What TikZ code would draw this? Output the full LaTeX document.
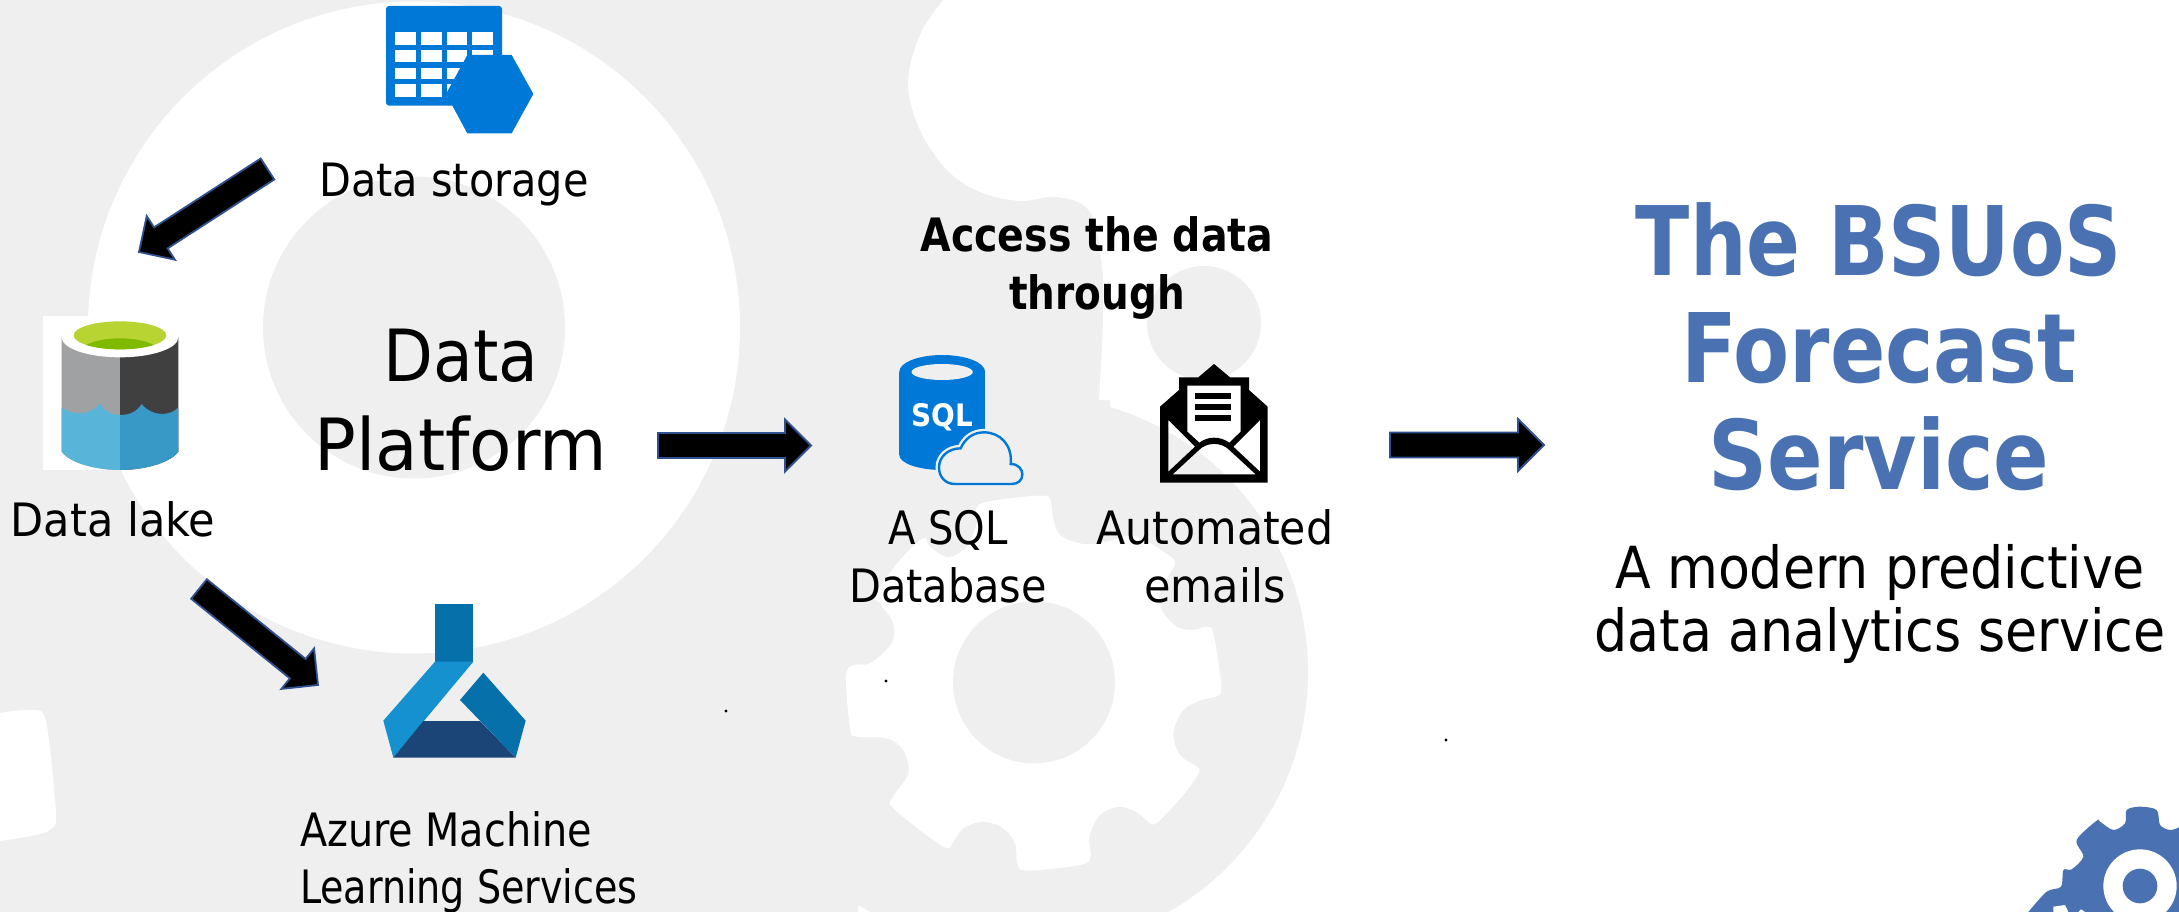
\documentclass[tikz,border=0pt]{standalone}
\usepackage{fontspec}
\setmainfont{DejaVu Sans Condensed}
\usetikzlibrary{calc}
\definecolor{bggray}{HTML}{EFEFEF}
\definecolor{azure}{HTML}{0078D7}
\definecolor{titleblue}{HTML}{4A72B2}
\definecolor{arrowedge}{HTML}{2F528F}
\definecolor{lakegray}{HTML}{A0A1A2}
\definecolor{lakedark}{HTML}{404040}
\definecolor{lakewater}{HTML}{59B4D9}
\definecolor{lakedeep}{HTML}{3999C6}
\definecolor{lakelime}{HTML}{B8D432}
\definecolor{lakegreen}{HTML}{7FBA00}
\definecolor{mlmid}{HTML}{0670AB}
\definecolor{mllight}{HTML}{1591D0}
\definecolor{mldark}{HTML}{1B4477}
\tikzset{
  blockarrowstyle/.style={draw=arrowedge,fill=black,line width=1.8pt,line join=miter},
  label/.style={anchor=base,inner sep=0pt,outer sep=0pt,align=center,text=black},
  zoomed/.style={x=0.33333pt,y=-0.33333pt},
  speck/.style={fill=black},
}
\newcommand{\fs}[2]{\fontsize{#1}{#2}\selectfont}
\newcommand{\squeeze}[2]{\scalebox{#1}[1]{#2}}
\newcommand{\blockarrow}[2]{%
  \draw[blockarrowstyle]
    ($(#1)!12.5pt!90:(#2)$) --
    ($(#2)!26pt!(#1)!12.5pt!-90:(#1)$) --
    ($(#2)!26pt!(#1)!26pt!-90:(#1)$) --
    (#2) --
    ($(#2)!26pt!(#1)!26pt!90:(#1)$) --
    ($(#2)!26pt!(#1)!12.5pt!90:(#1)$) --
    ($(#1)!12.5pt!-90:(#2)$) -- cycle;}
\begin{document}
\begin{tikzpicture}[x=1pt,y=-1pt]
\useasboundingbox (0,0) rectangle (2179,912);
% backdrop
\fill[white] (0,0) rectangle (2179,912);
\fill[bggray] (0,0) rectangle (1110,912);
\fill[white] plot[smooth,tension=0.6] coordinates {(943,0)(920,35)(908,83)(920,130)(947,170)(980,192)(1020,201)(1057,197)(1090,212)(1102,267)(1103,320)(1099,400)}
  -- (1400,400) -- (1400,0) -- cycle;
\fill[bggray] (1032,672) circle [radius=276];
\fill[bggray] (1204,323) circle [radius=57];
\fill[white] (414,327.5) circle [radius=326];
\fill[bggray] (414,327.5) circle [radius=151];
\begin{scope}[shift={(830,480)},zoomed]
\fill[white] plot[smooth cycle,tension=0.55] coordinates {
(445,75)(540,55)(640,47)(662,60)(668,110)(690,165)(760,192)(830,185)(912,168)(1000,215)(1035,245)(1020,280)(990,330)(995,390)(1040,440)(1090,450)(1130,440)(1150,460)(1172,600)(1168,645)(1115,660)(1060,690)(1030,760)(1050,825)(1100,860)(1105,880)(1060,945)(985,1025)(960,1030)(925,1000)(870,980)(810,1005)(778,1070)(782,1130)(750,1155)(590,1172)(562,1150)(555,1090)(520,1045)(460,1025)(400,1045)(370,1085)(340,1100)(190,985)(190,950)(235,880)(220,810)(170,775)(80,770)(60,745)(48,590)(70,555)(120,550)(185,490)(190,430)(150,370)(135,345)(210,240)(280,175)(300,200)(355,232)(410,200)(440,130)};
\fill[bggray] (612,607) circle [radius=243];
\end{scope}
\fill[white] (858,905) -- (870,912) -- (858,912) -- cycle;
\fill[white] plot[smooth,tension=0.5] coordinates {(0,713)(31,710)(46,721)(56,814)(51,829)(36,835)(0,841)} -- cycle;
% data storage icon
\begin{scope}[shift={(360,0)},zoomed]
\fill[azure,rounded corners=3pt] (78,18) rectangle (426,317);
\foreach \xa/\xb in {105/168,183/245,260/322,337/400}
  \foreach \ya/\yb in {97/135,150/185,203/238,252/290}
    \fill[white] (\xa,\ya) rectangle (\xb,\yb);
\fill[azure] (258,282) -- (322,165) -- (455,165) -- (520,282) -- (455,400) -- (322,400) -- cycle;
\end{scope}
% data lake icon
\fill[white] (43,316) rectangle (180,470);
\begin{scope}[shift={(30,300)},zoomed]
\fill[lakegray] (95,112) -- (95,455) .. controls (120,490) and (200,510) .. (270,510) -- (270,112) -- cycle;
\fill[lakedark] (270,112) -- (270,510) .. controls (340,510) and (420,490) .. (445,455) -- (445,112) -- cycle;
\fill[lakewater] (95,322) .. controls (125,350) and (185,345) .. (210,310) .. controls (225,335) and (245,345) .. (270,345) -- (270,510) .. controls (200,510) and (120,490) .. (95,455) -- cycle;
\fill[lakedeep] (270,345) .. controls (300,345) and (320,335) .. (335,312) .. controls (365,350) and (420,350) .. (445,322) -- (445,455) .. controls (420,490) and (340,510) .. (270,510) -- cycle;
\fill[white] (270,112) ellipse [x radius=175,y radius=60];
\fill[lakelime] (270,106) ellipse [x radius=139,y radius=42];
\begin{scope}
\clip (270,106) ellipse [x radius=139,y radius=42];
\fill[lakegreen] (270,158) ellipse [x radius=120,y radius=43];
\end{scope}
\end{scope}
% machine learning icon
\begin{scope}[shift={(360,590)},zoomed]
\fill[mlmid] (225,42) rectangle (340,215);
\fill[mllight] (225,215) -- (340,215) -- (100,503) -- (70,392) -- cycle;
\fill[mldark] (190,393) -- (360,393) -- (467,503) -- (100,503) -- cycle;
\fill[mlmid] (370,248) -- (497,392) -- (467,503) -- (300,330) -- cycle;
\end{scope}
% SQL icon
\begin{scope}[shift={(870,340)},zoomed]
\fill[azure] (88,95) rectangle (345,345);
\fill[azure] (216.5,95) ellipse [x radius=128.5,y radius=50];
\fill[azure] (216.5,345) ellipse [x radius=128.5,y radius=45];
\fill[bggray] (216.5,96) ellipse [x radius=92,y radius=24];
\node[text=white,inner sep=0pt,font=\fs{31}{31}\bfseries] (sqlmark) at (217,232) {SQL};
\path[fill=bggray,draw=bggray,line width=7pt] (255,432) .. controls (225,432) and (207,410) .. (207,382) .. controls (207,350) and (235,325) .. (272,325) .. controls (285,295) and (310,277) .. (342,277) .. controls (390,277) and (428,315) .. (422,372) .. controls (445,372) and (457,388) .. (457,403) .. controls (457,420) and (445,432) .. (425,432) -- cycle;
\draw[azure,line width=2.4pt] (255,432) .. controls (225,432) and (207,410) .. (207,382) .. controls (207,350) and (235,325) .. (272,325) .. controls (285,295) and (310,277) .. (342,277) .. controls (390,277) and (428,315) .. (422,372) .. controls (445,372) and (457,388) .. (457,403) .. controls (457,420) and (445,432) .. (425,432) -- cycle;
\end{scope}
% envelope icon
\begin{scope}[shift={(870,340)},zoomed]
\fill[black,even odd rule]
 (870,428) -- (1193,428) -- (1193,200) -- (1137,150) -- (1137,112) -- (1080,112) -- (1032,72) -- (985,112) -- (927,112) -- (927,150) -- (870,200) -- cycle
 (952,137) -- (1112,137) -- (1112,275) -- (1078,308) .. controls (1050,288) and (1015,288) .. (988,308) -- (952,275) -- cycle
 (895,240) -- (975,320) -- (895,395) -- cycle
 (1170,240) -- (1090,320) -- (1170,395) -- cycle
 (908,403) -- (985,332) .. controls (1010,305) and (1055,305) .. (1080,332) -- (1157,403) -- cycle;
\fill[black] (975,160) rectangle (1083,177);
\fill[black] (975,192) rectangle (1083,210);
\fill[black] (975,225) rectangle (1083,243);
\end{scope}
% corner gear
\begin{scope}
\clip (2000,780) rectangle (2179,912);
\begin{scope}[shift={(2000,780)},zoomed]
\fill[titleblue] plot[smooth,tension=0.5] coordinates {(538,142)(510,150)(480,135)(470,90)(420,80)(380,90)(375,130)(340,150)(300,125)(290,122)(230,180)(250,230)(215,268)(190,270)(183,320)(140,335)(85,396)} -- (538,396) -- cycle;
\fill[white] (420,318) circle [radius=110];
\fill[titleblue] (420,318) circle [radius=52];
\fill[white] (160,380) -- (195,375) -- (205,396) -- (160,396) -- cycle;
\fill[white] (235,396) -- (243,388) -- (255,396) -- cycle;
\end{scope}
\end{scope}
% connectors
\coordinate (a1s) at (267.5,169);
\coordinate (a1e) at (139,252);
\coordinate (a2s) at (199,589);
\coordinate (a2e) at (318,685);
\coordinate (a3s) at (658,445.5);
\coordinate (a3e) at (811,445.5);
\coordinate (a4s) at (1390,445);
\coordinate (a4e) at (1544,445);
\blockarrow{a1s}{a1e}
\blockarrow{a2s}{a2e}
\blockarrow{a3s}{a3e}
\blockarrow{a4s}{a4e}
% specks
\fill[speck] (726,711) circle [radius=1.7];
\fill[speck] (886,681) circle [radius=1.7];
\fill[speck] (1446,740) circle [radius=1.7];
% labels
\node[label,font=\fs{46}{57}] (storage) at (454,197) {Data storage};
\node[label,font=\fs{46}{57}] (lake) at (113,536) {\squeeze{1.04}{Data lake}};
\node[label,font=\fs{72}{89}] (platform) at (461,470) {Data\\\squeeze{1.07}{Platform}};
\node[label,font=\fs{46}{57},align=left,anchor=base west] (azureml) at (300,903) {\squeeze{0.96}{Azure Machine}\\\squeeze{0.92}{Learning Services}};
\node[label,font=\fs{46}{58}\bfseries] (access) at (1097,309) {\squeeze{0.954}{Access the data}\\\squeeze{0.94}{through}};
\node[label,font=\fs{46}{58}] (sqldb) at (948,602) {\squeeze{0.97}{A SQL}\\Database};
\node[label,font=\fs{46}{58}] (emails) at (1215,602) {\squeeze{1.03}{Automated}\\\squeeze{1.04}{emails}};
\node[label,font=\fs{96}{107}\bfseries,text=titleblue] (title) at (1879,489) {\squeeze{0.92}{The BSUoS}\\\squeeze{0.946}{Forecast}\\\squeeze{0.949}{Service}};
\node[label,font=\fs{58}{63}] (subtitle) at (1880,651) {A modern predictive\\data analytics service};
\end{tikzpicture}
\end{document}
